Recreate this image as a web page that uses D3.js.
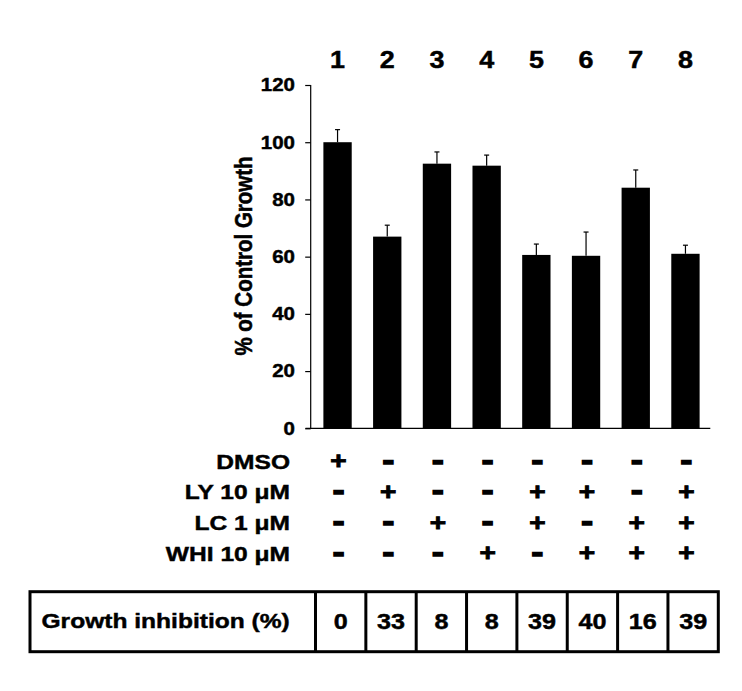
<!DOCTYPE html>
<html>
<head>
<meta charset="utf-8">
<script src="https://cdn.jsdelivr.net/npm/d3@7"></script>
<style>
  html, body { margin: 0; padding: 0; background: #fff; }
  svg { display: block; }
</style>
</head>
<body>
<svg id="chart" width="742" height="691"></svg>
<script>
const laneNumbers = ['1', '2', '3', '4', '5', '6', '7', '8'];
const growthMeans = [100, 67, 92.5, 91.8, 60.6, 60.3, 84.1, 61.0];
const growthErrors = [4.4, 4.0, 4.1, 3.7, 3.8, 8.3, 6.2, 3.0];
const yTicks = [0, 20, 40, 60, 80, 100, 120];

const treatmentLabels = ['DMSO', 'LY 10 μM', 'LC 1 μM', 'WHI 10 μM'];
const dmsoRow = ['+', '-', '-', '-', '-', '-', '-', '-'];
const lyRow = ['-', '+', '-', '-', '+', '+', '-', '+'];
const lcRow = ['-', '-', '+', '-', '+', '-', '+', '+'];
const whiRow = ['-', '-', '-', '+', '-', '+', '+', '+'];
const treatmentRows = [dmsoRow, lyRow, lcRow, whiRow];

const inhibitionLabel = 'Growth inhibition (%)';
const inhibitionValues = ['0', '33', '8', '8', '39', '40', '16', '39'];

const FONT = '"Liberation Sans", Arial, Helvetica, sans-serif';
const STRETCH = 1.17; // source picture is a little wider than it is tall

const svg = d3.select('#chart');

// put text at (x, y) and widen it a bit, optionally rotated
function placeText(sel, x, y, rotate) {
  const rot = rotate ? ` rotate(${rotate})` : '';
  return sel
    .attr('x', 0)
    .attr('y', 0)
    .attr('transform', `translate(${x},${y}) scale(${STRETCH},1)${rot}`)
    .attr('font-family', FONT)
    .attr('font-weight', 'bold')
    .attr('fill', '#000')
    .attr('stroke', '#000')
    .attr('stroke-width', 0.45);
}

const x = d3.scaleBand()
  .domain(laneNumbers)
  .range([312.7, 710.3])
  .paddingInner(0.43)
  .paddingOuter(0.215);

const y = d3.scaleLinear()
  .domain([0, 120])
  .range([428.3, 85]);

const cx = (i) => x(laneNumbers[i]) + x.bandwidth() / 2;

// y axis
const yAxis = d3.axisLeft(y)
  .tickValues(yTicks)
  .tickSize(5.5)
  .tickFormat('');

const axisG = svg.append('g')
  .attr('transform', 'translate(310.7,0)')
  .call(yAxis);
axisG.select('.domain')
  .attr('d', `M0,${y(120)}V${y(0)}`)
  .attr('stroke', '#000')
  .attr('stroke-width', 1.2);
axisG.selectAll('.tick line').attr('stroke', '#000').attr('stroke-width', 1.2);

yTicks.forEach((t) => {
  placeText(svg.append('text'), 295, y(t) + 6.4)
    .attr('text-anchor', 'end')
    .attr('font-size', '17.5px')
    .text(t);
});

// x axis baseline
svg.append('line')
  .attr('x1', 305.5)
  .attr('x2', 710.3)
  .attr('y1', y(0))
  .attr('y2', y(0))
  .attr('stroke', '#000')
  .attr('stroke-width', 1.2);

// y axis title
placeText(svg.append('text'), 252, 256, -90)
  .attr('text-anchor', 'middle')
  .attr('font-size', '20.5px')
  .text('% of Control Growth');

// bars
svg.append('g')
  .selectAll('rect')
  .data(growthMeans)
  .join('rect')
  .attr('x', (d, i) => x(laneNumbers[i]))
  .attr('y', (d) => y(d))
  .attr('width', x.bandwidth())
  .attr('height', (d) => y(0) - y(d))
  .attr('fill', '#000');

// error bars, upper half only
const errG = svg.append('g').attr('stroke', '#000').attr('stroke-width', 1.2);
growthMeans.forEach((m, i) => {
  const top = y(m + growthErrors[i]);
  errG.append('line')
    .attr('x1', cx(i)).attr('x2', cx(i))
    .attr('y1', y(m)).attr('y2', top);
  errG.append('line')
    .attr('x1', cx(i) - 2.5).attr('x2', cx(i) + 2.5)
    .attr('y1', top).attr('y2', top);
});

// lane numbers on top
laneNumbers.forEach((n, i) => {
  placeText(svg.append('text'), cx(i), 68.3)
    .attr('text-anchor', 'middle')
    .attr('font-size', '23px')
    .text(n);
});

// treatment grid
const rowY = d3.scalePoint()
  .domain(treatmentLabels)
  .range([461, 553]);

treatmentLabels.forEach((label, r) => {
  const yc = rowY(label);
  placeText(svg.append('text'), 290, yc + 7.5)
    .attr('text-anchor', 'end')
    .attr('font-size', '21px')
    .text(label);

  treatmentRows[r].forEach((sym, i) => {
    const plus = sym === '+';
    const fs = plus ? 24 : 30;
    const shift = plus ? 0.35 : 0.285;
    placeText(svg.append('text'), cx(i) + 1, yc + fs * shift)
      .attr('text-anchor', 'middle')
      .attr('font-size', fs + 'px')
      .attr('stroke-width', plus ? 0.9 : 1.6)
      .text(sym);
  });
});

// growth inhibition table
const tableTop = 591.7;
const tableBottom = 651.7;
const tableLeft = 30;
const col = d3.scaleBand()
  .domain(laneNumbers)
  .range([315.5, 718.3]);

const tableG = svg.append('g')
  .attr('fill', 'none')
  .attr('stroke', '#000')
  .attr('stroke-width', 3);

tableG.append('rect')
  .attr('x', tableLeft)
  .attr('y', tableTop)
  .attr('width', col.range()[1] - tableLeft)
  .attr('height', tableBottom - tableTop);

laneNumbers.forEach((n) => {
  tableG.append('line')
    .attr('x1', col(n)).attr('x2', col(n))
    .attr('y1', tableTop).attr('y2', tableBottom);
});

placeText(svg.append('text'), 41.5, 627.5)
  .attr('text-anchor', 'start')
  .attr('font-size', '21px')
  .text(inhibitionLabel);

inhibitionValues.forEach((v, i) => {
  placeText(svg.append('text'), col(laneNumbers[i]) + col.bandwidth() / 2, 628.5)
    .attr('text-anchor', 'middle')
    .attr('font-size', '21.5px')
    .text(v);
});
</script>
</body>
</html>
